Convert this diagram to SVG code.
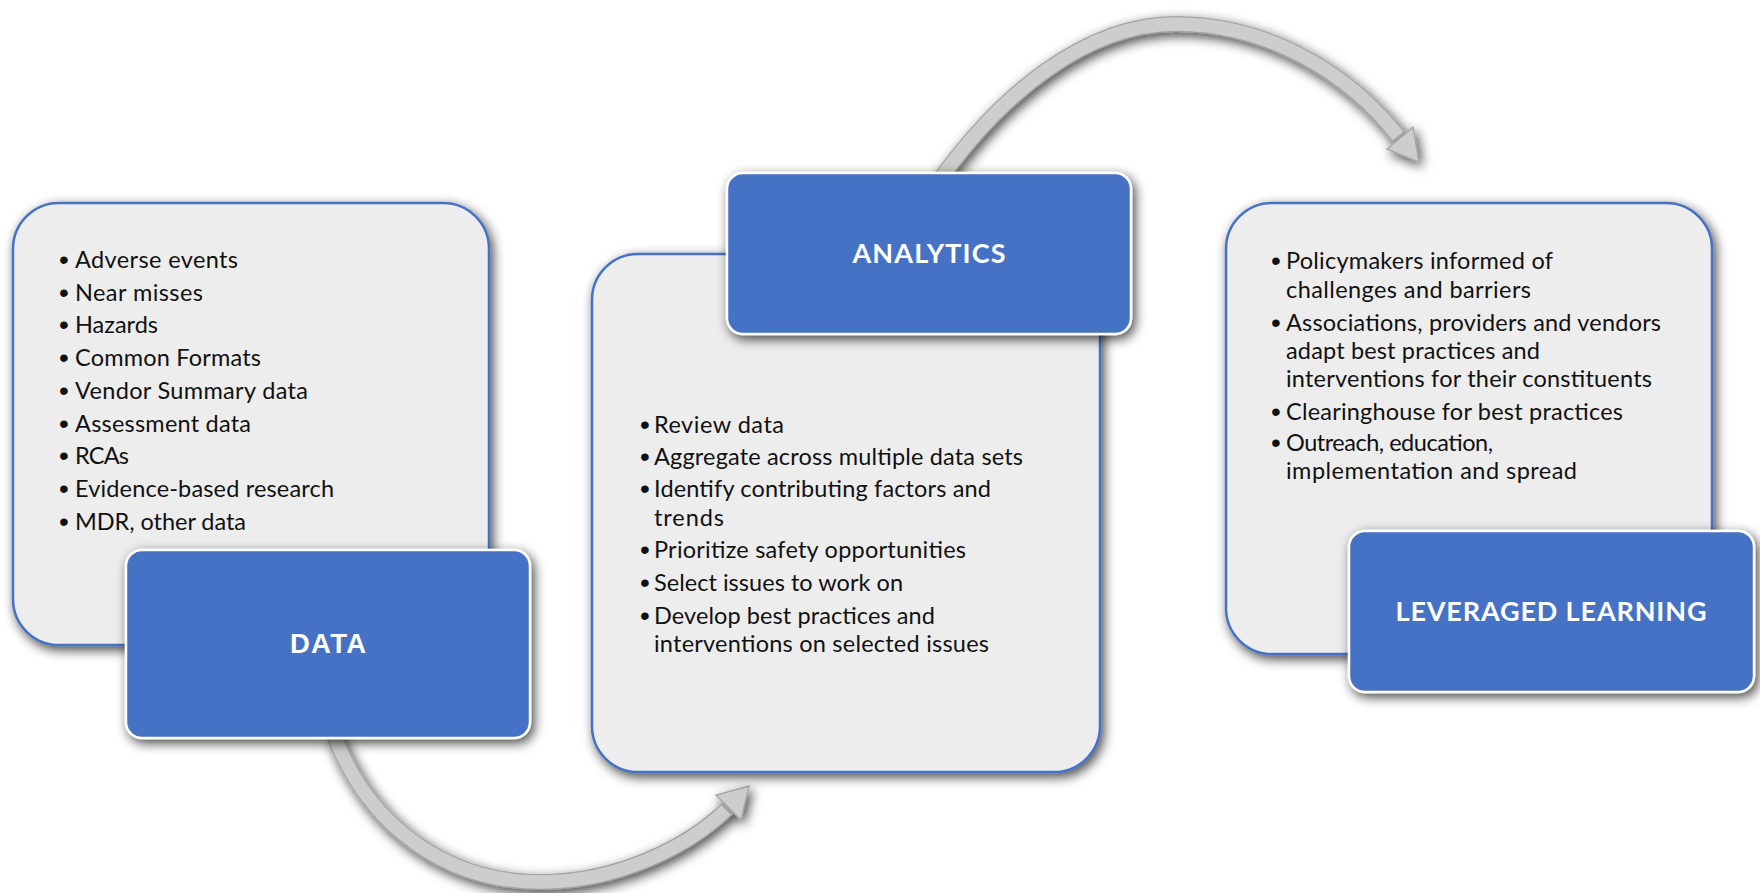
<svg xmlns="http://www.w3.org/2000/svg" width="1760" height="893" viewBox="0 0 1760 893">
<defs>
<filter id="sh" x="-20%" y="-20%" width="140%" height="140%">
<feDropShadow dx="3" dy="4" stdDeviation="6" flood-color="#000" flood-opacity="0.72"/>
</filter>
<filter id="ash" x="-20%" y="-30%" width="140%" height="160%">
<feDropShadow dx="3" dy="4" stdDeviation="6" flood-color="#000" flood-opacity="0.72"/>
</filter>
</defs>
<style>
.card{fill:#EDEDED;stroke:#4472C4;stroke-width:2.5}
.head{fill:#4472C4;stroke:#FFFFFF;stroke-width:2.5}
.body{font-family:Lato,"Liberation Sans",sans-serif;font-size:23.5px;fill:#111111}
.bul{font-family:"Liberation Sans",sans-serif;font-size:28px;fill:#111111;text-anchor:middle}
.title{font-family:Lato,"Liberation Sans",sans-serif;font-weight:bold;font-size:27px;fill:#FFFFFF;text-anchor:middle}
.title2{font-family:"Liberation Sans",sans-serif;font-weight:bold;font-size:27.5px;fill:#FFFFFF;text-anchor:middle}
.band-o{fill:none;stroke:#A3A3A3;stroke-width:16}
.band-i{fill:none;stroke:#CDCDCD;stroke-width:13.5}
.head-a{fill:#CDCDCD;stroke:#A3A3A3;stroke-width:1.3;stroke-linejoin:miter}
</style>
<rect width="1760" height="893" fill="#FFFFFF"/>

<g id="connectors">
<g id="arrow-data-analytics" filter="url(#ash)">
<path class="band-o" d="M334 735 C370 830 450 882 540 882 C620 882 690 845 728 808"/>
<polygon class="head-a" points="741,820 716,795 749,786"/>
<path class="band-i" d="M334 735 C370 830 450 882 540 882 C620 882 690 845 726 810"/>
</g>
<g id="arrow-analytics-learning" filter="url(#ash)">
<path class="band-o" d="M938 182 C1000 95 1085 24 1176 24 C1270 24 1350 75 1400 138"/>
<polygon class="head-a" points="1413,127 1387,149 1419,162"/>
<path class="band-i" d="M938 182 C1000 95 1085 24 1176 24 C1270 24 1350 75 1398 136"/>
</g>
</g>

<g id="data">
<rect class="card" x="13" y="203" width="476" height="442" rx="46" filter="url(#sh)"/>
<text class="bul" x="64" y="269">•</text><text class="body" x="75" y="268" textLength="163">Adverse events</text>
<text class="bul" x="64" y="302">•</text><text class="body" x="75" y="301" textLength="128">Near misses</text>
<text class="bul" x="64" y="334">•</text><text class="body" x="75" y="333" textLength="83">Hazards</text>
<text class="bul" x="64" y="367">•</text><text class="body" x="75" y="366" textLength="186">Common Formats</text>
<text class="bul" x="64" y="400">•</text><text class="body" x="75" y="399" textLength="233">Vendor Summary data</text>
<text class="bul" x="64" y="433">•</text><text class="body" x="75" y="432" textLength="176">Assessment data</text>
<text class="bul" x="64" y="465">•</text><text class="body" x="75" y="464" textLength="54">RCAs</text>
<text class="bul" x="64" y="498">•</text><text class="body" x="75" y="497" textLength="259">Evidence-based research</text>
<text class="bul" x="64" y="531">•</text><text class="body" x="75" y="530" textLength="171">MDR, other data</text>
<rect class="head" x="126" y="550" width="404" height="188" rx="16" filter="url(#sh)"/>
<text class="title2" x="328" y="653" textLength="76">DATA</text>
</g>

<g id="analytics">
<rect class="card" x="592" y="254" width="508" height="518" rx="46" filter="url(#sh)"/>
<rect class="head" x="727" y="173" width="404" height="161" rx="16" filter="url(#sh)"/>
<text class="title" x="929" y="263" textLength="153">ANALYTICS</text>
<text class="bul" x="645" y="434">•</text><text class="body" x="654" y="433" textLength="130">Review data</text>
<text class="bul" x="645" y="466">•</text><text class="body" x="654" y="465" textLength="369">Aggregate across multiple data sets</text>
<text class="bul" x="645" y="498">•</text><text class="body" x="654" y="497" textLength="337">Identify contributing factors and</text>
<text class="body" x="654" y="526" textLength="70">trends</text>
<text class="bul" x="645" y="559">•</text><text class="body" x="654" y="558" textLength="312">Prioritize safety opportunities</text>
<text class="bul" x="645" y="592">•</text><text class="body" x="654" y="591" textLength="249">Select issues to work on</text>
<text class="bul" x="645" y="625">•</text><text class="body" x="654" y="624" textLength="281">Develop best practices and</text>
<text class="body" x="654" y="652" textLength="335">interventions on selected issues</text>
</g>

<g id="leveraged-learning">
<rect class="card" x="1226" y="203" width="486" height="451" rx="46" filter="url(#sh)"/>
<text class="bul" x="1276" y="270">•</text><text class="body" x="1286" y="269" textLength="267">Policymakers informed of</text>
<text class="body" x="1286" y="297.5" textLength="245">challenges and barriers</text>
<text class="bul" x="1276" y="332">•</text><text class="body" x="1286" y="331" textLength="375">Associations, providers and vendors</text>
<text class="body" x="1286" y="359" textLength="254">adapt best practices and</text>
<text class="body" x="1286" y="387" textLength="366">interventions for their constituents</text>
<text class="bul" x="1276" y="421">•</text><text class="body" x="1286" y="420" textLength="337">Clearinghouse for best practices</text>
<text class="bul" x="1276" y="452">•</text><text class="body" x="1286" y="451" textLength="207">Outreach, education,</text>
<text class="body" x="1286" y="479" textLength="291">implementation and spread</text>
<rect class="head" x="1349" y="531" width="405" height="161" rx="16" filter="url(#sh)"/>
<text class="title" x="1551" y="620.5" textLength="311">LEVERAGED LEARNING</text>
</g>
</svg>
